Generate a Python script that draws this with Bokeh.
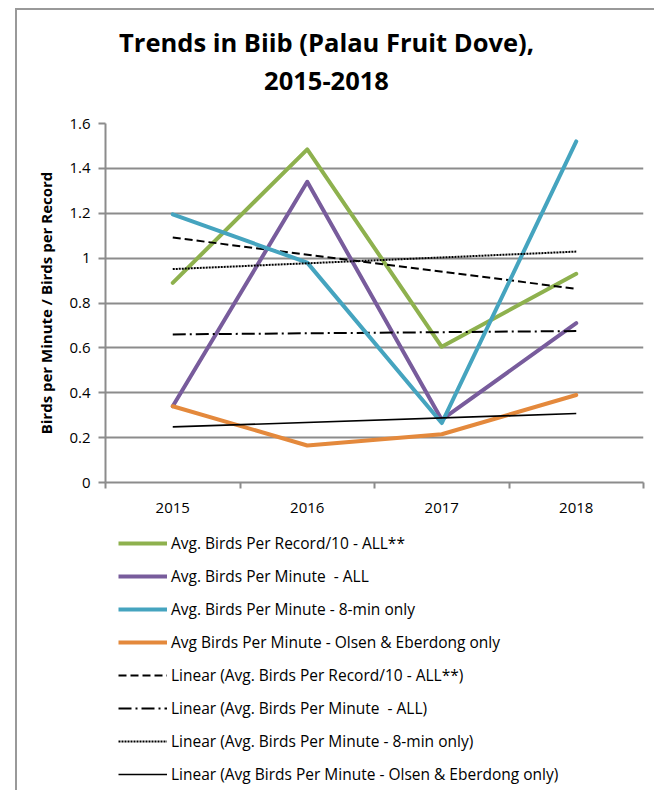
import numpy as np
from bokeh.plotting import figure
from bokeh.layouts import column
from bokeh.models import (LinearAxis, FixedTicker, NumeralTickFormatter, Legend,
                          LegendItem, Label, InlineStyleSheet)
from bokeh.embed import file_html
from bokeh.resources import INLINE

# ---- data ----
years = ["2015", "2016", "2017", "2018"]
per_record_all = [0.89, 1.485, 0.605, 0.93]
per_minute_all = [0.34, 1.34, 0.28, 0.71]
per_minute_8min = [1.195, 0.98, 0.265, 1.52]
per_minute_olsen = [0.34, 0.165, 0.215, 0.39]
y_ticks = [0, 0.2, 0.4, 0.6, 0.8, 1.0, 1.2, 1.4, 1.6]
title_lines = ["Trends in Biib (Palau Fruit Dove),", "2015-2018"]

series_names = ["Avg. Birds Per Record/10 - ALL**",
                "Avg. Birds Per Minute  - ALL",
                "Avg. Birds Per Minute - 8-min only",
                "Avg Birds Per Minute - Olsen & Eberdong only"]
series_vals = [per_record_all, per_minute_all, per_minute_8min, per_minute_olsen]
series_colors = ["#8EB14E", "#785C9C", "#45A4BF", "#E4893C"]
trend_dashes = ["8 4", "13 4 2 4", "2 1", "solid"]

xs = list(range(1, len(years) + 1))

FONT = "Open Sans"
GRAY = "#8c8c8c"
W = 637


def blank_fig(h):
    f = figure(width=W, height=h, x_range=(100, 101), y_range=(100, 101),
               output_backend="svg", toolbar_location=None, x_axis_location=None,
               y_axis_location=None, min_border=0)
    f.outline_line_color = None
    f.grid.visible = False
    f.background_fill_color = "white"
    f.border_fill_color = "white"
    return f


# ---- title block ----
t = blank_fig(100)
for txt, sy in zip(title_lines, [69, 30]):
    t.add_layout(Label(x=221, y=sy, x_units="screen", y_units="screen", text=txt,
                       text_align="center", text_baseline="alphabetic", text_font=FONT,
                       text_font_size="25.5px", text_font_style="bold", text_color="black"))

# ---- main chart ----
p = figure(width=W, height=412, x_range=(0.5, len(years) + 0.5), y_range=(0, 1.6),
           output_backend="svg", toolbar_location=None, x_axis_location=None,
           min_border_left=88, min_border_right=11, min_border_top=13, min_border_bottom=40)
p.outline_line_color = None
p.background_fill_color = "white"
p.border_fill_color = "white"

ya = p.yaxis[0]
ya.ticker = FixedTicker(ticks=y_ticks)
ya.formatter = NumeralTickFormatter(format="0.[0]")
ya.axis_line_color = GRAY
ya.axis_line_width = 2
ya.major_tick_line_color = GRAY
ya.major_tick_line_width = 2
ya.major_tick_in = 0
ya.major_tick_out = 7
ya.minor_tick_line_color = None
ya.major_label_text_font = FONT
ya.major_label_text_font_size = "15px"
ya.major_label_text_color = "black"
ya.major_label_standoff = 8
ya.axis_label = "Birds per Minute / Birds per Record"
ya.axis_label_text_font = FONT
ya.axis_label_text_font_size = "15px"
ya.axis_label_text_font_style = "bold"
ya.axis_label_text_color = "black"
ya.axis_label_standoff = 10

p.ygrid.ticker = FixedTicker(ticks=y_ticks)
p.ygrid.grid_line_color = GRAY
p.ygrid.grid_line_width = 2
p.xgrid.visible = False

# x axis: labels at category centres, tick marks at category boundaries (minor ticks)
bounds = [x - 0.5 for x in xs] + [xs[-1] + 0.5]
x_axis = LinearAxis(ticker=FixedTicker(ticks=xs, minor_ticks=bounds),
                    major_label_overrides={x: y for x, y in zip(xs, years)},
                    axis_line_color=GRAY, axis_line_width=2,
                    major_tick_line_color=None, major_tick_in=0, major_tick_out=6,
                    minor_tick_line_color=GRAY, minor_tick_line_width=2,
                    minor_tick_in=0, minor_tick_out=6,
                    major_label_text_font=FONT, major_label_text_font_size="15px",
                    major_label_text_color="black", major_label_standoff=14)
p.add_layout(x_axis, "below")

# ---- legend block (its renderers lie outside its visible range) ----
q = blank_fig(268)

data_items = []
trend_items = []
for name, vals, col, dash in zip(series_names, series_vals, series_colors, trend_dashes):
    p.line(xs, vals, line_color=col, line_width=4, line_join="round", line_cap="round")
    slope, icpt = np.polyfit(xs, vals, 1)
    tx = [xs[0], xs[-1]]
    ty = [icpt + slope * v for v in tx]
    tw = 2 if dash != "solid" else 1.7
    p.line(tx, ty, line_color="black", line_width=tw, line_dash=dash)
    r = q.line(xs, vals, line_color=col, line_width=4)
    tr = q.line(tx, ty, line_color="black", line_width=tw, line_dash=dash)
    data_items.append(LegendItem(label=name, renderers=[r]))
    trend_items.append(LegendItem(label="Linear (" + name + ")", renderers=[tr]))

legend = Legend(items=data_items + trend_items, location=(13, 5), orientation="vertical",
                border_line_color=None, background_fill_alpha=0, glyph_width=49,
                glyph_height=20, label_height=20, spacing=11, label_standoff=4,
                padding=0, margin=0, label_text_font=FONT, label_text_font_size="15.5px",
                label_text_color="black")
q.add_layout(legend, "center")

layout = column(t, p, q, spacing=0)
layout.stylesheets = [InlineStyleSheet(css=":host { margin-left: 15px; margin-top: 8px; border-left: 2px solid #999999; border-top: 2px solid #999999; }")]

open("out.html", "w").write(file_html(layout, INLINE))
